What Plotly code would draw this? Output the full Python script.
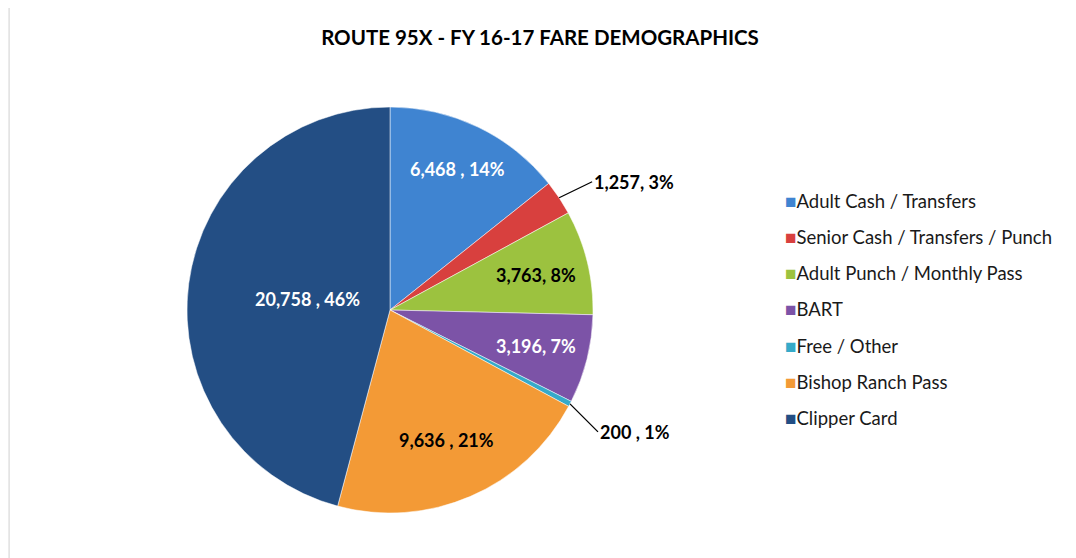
import math
import plotly.graph_objects as go

fare_types = ["Adult Cash / Transfers", "Senior Cash / Transfers / Punch",
              "Adult Punch / Monthly Pass", "BART", "Free / Other",
              "Bishop Ranch Pass", "Clipper Card"]
riders = [6468, 1257, 3763, 3196, 200, 9636, 20758]
label_text = ["6,468 , 14%", "1,257, 3%", "3,763, 8%", "3,196, 7%",
              "200 , 1%", "9,636 , 21%", "20,758 , 46%"]

colors = ["#3F84D1", "#D8403E", "#9CC23F", "#7C53A7", "#36AAC9", "#F39A36", "#234E84"]
label_colors = ["white", "black", "black", "white", "black", "black", "white"]
label_radius = [0.77, 1.0, 0.74, 0.74, 1.0, 0.70, 0.41]
label_offset = [None, (33, -16), None, None, (28, 28), None, None]

W, H = 1076, 558
OFF = 8  # page body margin
cx, cy, R = 390 - OFF, 310 - OFF, 203
FONT = "Lato"

fig = go.Figure(go.Pie(
    labels=fare_types, values=riders, sort=False, direction="clockwise",
    rotation=0, textinfo="none", hoverinfo="label+value+percent",
    marker=dict(colors=colors, line=dict(color="rgba(255,255,255,0.5)", width=1)),
    domain=dict(x=[(cx - R) / W, (cx + R) / W], y=[1 - (cy + R) / H, 1 - (cy - R) / H]),
    showlegend=False,
))

total = sum(riders)
start = 0.0
annotations = []
for val, txt, col, rr, off in zip(riders, label_text, label_colors, label_radius, label_offset):
    mid = (start + val / 2) / total * 2 * math.pi
    start += val
    if off:
        ex, ey = cx + R * math.sin(mid), cy - R * math.cos(mid)
        annotations.append(dict(
            x=ex / W, y=1 - ey / H, xref="paper", yref="paper",
            ax=off[0], ay=off[1], showarrow=True, arrowhead=0, arrowwidth=1.3,
            arrowcolor="black", standoff=0, xanchor="left",
            text="<b>" + txt + "</b>",
            font=dict(family=FONT, size=18, color="black"),
        ))
    else:
        lx, ly = cx + rr * R * math.sin(mid), cy - rr * R * math.cos(mid)
        annotations.append(dict(
            x=lx / W, y=1 - ly / H, xref="paper", yref="paper", showarrow=False,
            xanchor="center", yanchor="middle",
            text="<b>" + txt + "</b>", font=dict(family=FONT, size=18, color=col),
        ))

# legend built from the category list
for i, (name, c) in enumerate(zip(fare_types, colors)):
    y = 200 - OFF + i * 36.3
    annotations.append(dict(
        x=(783 - OFF) / W, y=1 - y / H, xref="paper", yref="paper", showarrow=False,
        xanchor="left", yanchor="middle",
        text="<span style='color:%s;font-size:19px'>■</span>%s" % (c, name),
        font=dict(family=FONT, size=18.5, color="#1a1a1a"),
    ))

fig.update_layout(
    width=W, height=H, margin=dict(l=0, r=0, t=0, b=0),
    paper_bgcolor="white", plot_bgcolor="white",
    title=dict(text="<b>ROUTE 95X - FY 16-17 FARE DEMOGRAPHICS</b>", x=(540 - OFF) / W,
               y=1 - (38 - OFF) / H, xanchor="center", yanchor="middle",
               font=dict(family=FONT, size=20.5, color="black")),
    annotations=annotations,
    shapes=[dict(type="rect", xref="paper", yref="paper", x0=0.001, x1=(1074 - OFF) / W,
                 y0=-0.01, y1=1.02, line=dict(color="#D0D0D0", width=1))],
)

fig.write_html("out.html")
